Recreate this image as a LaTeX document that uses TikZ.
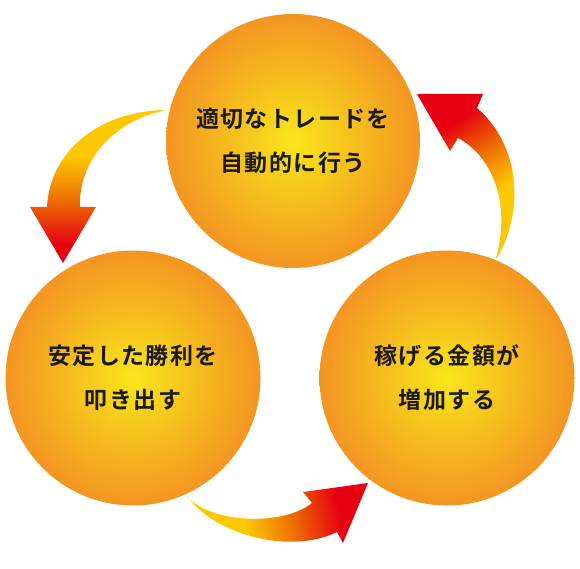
\documentclass[tikz,border=0pt]{standalone}
\usepackage{fontspec}
\usepackage{xcolor}
\usepackage{tikz}
\newfontfamily\jpfont{Noto Sans CJK JP}[LetterSpace=6,BoldFont={* Bold}]
\definecolor{circYellow}{HTML}{F9E61C}
\definecolor{circOrange}{HTML}{F39522}
\definecolor{arrowYellow}{HTML}{FDC800}
\definecolor{arrowOrange}{HTML}{EC6A02}
\definecolor{arrowRed}{HTML}{E60012}
\definecolor{textBlack}{HTML}{1A1A1A}
\pgfdeclareverticalshading{arrowfade}{100bp}{color(0bp)=(arrowRed); color(31bp)=(arrowRed); color(45bp)=(arrowOrange); color(60bp)=(arrowYellow); color(100bp)=(arrowYellow)}

\begin{document}
\begin{tikzpicture}[
  x=1pt,y=-1pt,
  bubble/.style={circle,inner sep=0pt,minimum size=256pt,inner color=circYellow,outer color=circOrange,align=center,text=textBlack,font=\jpfont\bfseries\fontsize{23}{44}\selectfont},
  curvearrow/.style={shade,shading=arrowfade}
]
\useasboundingbox (0,0) rectangle (580,569);
\node[bubble,minimum size=254pt] (auto) at (293,141) {適切なトレードを\\自動的に行う};
\node[bubble,minimum size=255pt] (stable) at (133,378) {安定した勝利を\\叩き出す};
\node[bubble,minimum size=255pt] (gain) at (447,378) {稼げる金額が\\増加する};
% top -> left
\path[curvearrow]
  (163,110) .. controls (100,112) and (50,150) .. (47,207)
  -- (30,207) -- (63,263) -- (96,207) -- (80,207)
  .. controls (78,165) and (110,122) .. (163,111) -- cycle;
% left -> right
\path[curvearrow,shading angle=100]
  (187,496) .. controls (215,535) and (290,555) .. (337,532)
  -- (343,543) -- (368,483) -- (303,492) -- (312,503)
  .. controls (285,525) and (215,525) .. (187,497) -- cycle;
% right -> top
\path[curvearrow,shading angle=-145]
  (497,258) .. controls (525,210) and (520,145) .. (477,108)
  -- (483,94) -- (417,94) -- (450,151) -- (458,138)
  .. controls (490,155) and (512,200) .. (496,258) -- cycle;
\end{tikzpicture}
\end{document}
